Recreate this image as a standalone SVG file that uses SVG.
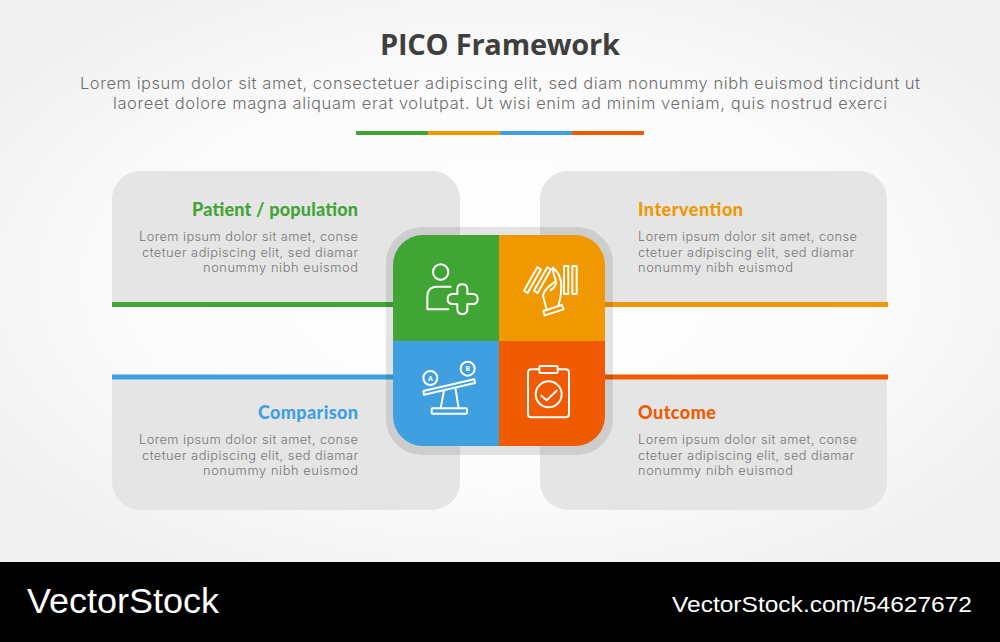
<svg xmlns="http://www.w3.org/2000/svg" width="1000" height="642" viewBox="0 0 1000 642">
<defs>
<radialGradient id="bg" cx="50%" cy="50%" r="62%"><stop offset="0" stop-color="#ffffff"/><stop offset=".6" stop-color="#fbfbfb"/><stop offset="1" stop-color="#f0f0f0"/></radialGradient>
<clipPath id="sq"><rect x="393" y="235" width="212" height="211" rx="30"/></clipPath>
</defs>
<style>
.title{font:700 29px "Open Sans",sans-serif;fill:#3f3f3f}
.sub{font:300 16.500px "Inter",sans-serif;fill:#6e6e6e}
.h{font:900 18px "Lato",sans-serif}
.b{font:300 12.800px "Inter",sans-serif;fill:#767676}
.panel{fill:#e5e5e5}
.ic{fill:none;stroke:#fff;stroke-width:6;stroke-linejoin:round;stroke-linecap:round}
</style>
<rect width="1000" height="562" fill="url(#bg)"/>
<g id="header">
<text class="title" x="500" y="55" text-anchor="middle" textLength="240">PICO Framework</text>
<text class="sub" x="500" y="89" text-anchor="middle" textLength="840">Lorem ipsum dolor sit amet, consectetuer adipiscing elit, sed diam nonummy nibh euismod tincidunt ut</text>
<text class="sub" x="500" y="109" text-anchor="middle" textLength="774">laoreet dolore magna aliquam erat volutpat. Ut wisi enim ad minim veniam, quis nostrud exerci</text>
<rect x="356" y="131" width="72" height="4" fill="#41a535"/><rect x="428" y="131" width="72" height="4" fill="#f09800"/><rect x="500" y="131" width="72" height="4" fill="#3f9fe0"/><rect x="572" y="131" width="72" height="4" fill="#f05a00"/>
</g>
<g id="node-patient">
<path class="panel" d="M112 304V199a28 28 0 0 1 28-28H432a28 28 0 0 1 28 28V304Z"/>
<text class="h" x="358" y="215.500" text-anchor="end" fill="#41a535" textLength="166">Patient / population</text>
<g class="b" text-anchor="end"><text x="358" y="241" textLength="219">Lorem ipsum dolor sit amet, conse</text><text x="358" y="256.500" textLength="216">ctetuer adipiscing elit, sed diamar</text><text x="358" y="272" textLength="155">nonummy nibh euismod</text></g>
</g>
<g id="node-intervention">
<path class="panel" d="M540 304V199a28 28 0 0 1 28-28H859a28 28 0 0 1 28 28V304Z"/>
<text class="h" x="638" y="215.500" fill="#f09800" textLength="105">Intervention</text>
<g class="b"><text x="638" y="241" textLength="219">Lorem ipsum dolor sit amet, conse</text><text x="638" y="256.500" textLength="216">ctetuer adipiscing elit, sed diamar</text><text x="638" y="272" textLength="155">nonummy nibh euismod</text></g>
</g>
<g id="node-comparison">
<path class="panel" d="M112 377V482a28 28 0 0 0 28 28H432a28 28 0 0 0 28-28V377Z"/>
<text class="h" x="358" y="418.500" text-anchor="end" fill="#3f9fe0" textLength="100">Comparison</text>
<g class="b" text-anchor="end"><text x="358" y="444" textLength="219">Lorem ipsum dolor sit amet, conse</text><text x="358" y="459.500" textLength="216">ctetuer adipiscing elit, sed diamar</text><text x="358" y="475" textLength="155">nonummy nibh euismod</text></g>
</g>
<g id="node-outcome">
<path class="panel" d="M540 377V482a28 28 0 0 0 28 28H859a28 28 0 0 0 28-28V377Z"/>
<text class="h" x="638" y="418.500" fill="#f05a00" textLength="78">Outcome</text>
<g class="b"><text x="638" y="444" textLength="219">Lorem ipsum dolor sit amet, conse</text><text x="638" y="459.500" textLength="216">ctetuer adipiscing elit, sed diamar</text><text x="638" y="475" textLength="155">nonummy nibh euismod</text></g>
</g>
<g id="connectors">
<rect x="112" y="302" width="282" height="5" fill="#41a535"/>
<rect x="604" y="302" width="284" height="5" fill="#f09800"/>
<rect x="112" y="374.500" width="282" height="5" fill="#3f9fe0"/>
<rect x="604" y="374.500" width="284" height="5" fill="#f05a00"/>
</g>
<g id="center">
<rect x="386" y="227" width="227" height="228" rx="36" fill="#000" fill-opacity=".1"/>
<g clip-path="url(#sq)">
<rect x="393" y="235" width="106" height="106" fill="#41a535"/><rect x="499" y="235" width="106" height="106" fill="#f09800"/><rect x="393" y="341" width="106" height="105" fill="#3f9fe0"/><rect x="499" y="341" width="106" height="105" fill="#f05a00"/>
</g>
<g class="ic" transform="translate(380 225) scale(.33333)">
<g id="icon-patient"><circle cx="182" cy="141" r="23"/><path d="M212 185H172Q142 185 142 215V253H205"/><path d="M232 192Q232 178 247 178Q262 178 262 192V207H278Q293 207 293 222Q293 237 278 237H262V252Q262 267 247 267Q232 267 232 252V237H218Q203 237 203 222Q203 207 218 207H232Z"/></g>
<g id="icon-intervention"><path d="M432 197L472 127L483 133L443 204ZM462 197L502 127L513 133L473 204Z"/><rect x="552" y="123" width="13" height="84"/><rect x="577" y="123" width="13" height="84"/><path d="M490 258L546 240L551 253L494 271Z"/><path d="M500 255L489 212Q492 198 505 186L528 167M512 196Q532 182 527 165Q520 148 518 128Q542 145 544 180Q544 215 535 243"/></g>
<g id="icon-comparison"><circle cx="151" cy="459" r="21"/><circle cx="263" cy="431" r="21"/><path d="M130 498L283 463L285 474L132 509Z"/><path d="M192 496L182 550M226 488L236 550"/><rect x="155" y="550" width="106" height="16" rx="3"/></g>
<g id="icon-outcome"><path d="M478 433H454Q444 433 444 443V567Q444 577 454 577H557Q567 577 567 567V443Q567 433 557 433H533"/><rect x="478" y="423" width="55" height="21" rx="4"/><circle cx="506" cy="508" r="39"/><path d="M484 512L500 526L530 497"/></g>
</g>
<g font-family="Open Sans,sans-serif" font-size="7" font-weight="700" fill="#fff" text-anchor="middle"><text x="430.300" y="380.500">A</text><text x="467.700" y="371">B</text></g>
</g>
<g id="footer">
<rect y="562" width="1000" height="80" fill="#000"/>
<text x="27" y="613" font-family="Liberation Sans,sans-serif" font-size="35" fill="#fff" textLength="192" lengthAdjust="spacingAndGlyphs">VectorStock</text>
<text x="972" y="612" text-anchor="end" font-family="Liberation Sans,sans-serif" font-size="22" fill="#fff" textLength="300" lengthAdjust="spacingAndGlyphs">VectorStock.com/54627672</text>
</g>
</svg>
